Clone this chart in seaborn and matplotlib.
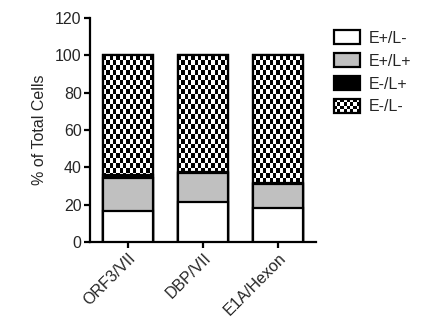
import numpy as np
import pandas as pd
import matplotlib
matplotlib.use("Agg")
import matplotlib.pyplot as plt
import seaborn as sns
from matplotlib.patches import Patch, Rectangle
from matplotlib.legend_handler import HandlerPatch
from matplotlib.image import BboxImage
from matplotlib.transforms import Bbox, TransformedBbox

# data (% of total cells)
groups = ["ORF3/VII", "DBP/VII", "E1A/Hexon"]
e_pos_l_neg = [16.5, 21.5, 18.0]
e_pos_l_pos = [18.0, 15.5, 13.0]
e_neg_l_pos = [1.5, 0.4, 0.4]
e_neg_l_neg = [64.0, 62.6, 68.6]
labels = ["E+/L-", "E+/L+", "E-/L+", "E-/L-"]

sns.set_style("ticks")
plt.rcParams["font.family"] = ["Liberation Sans", "DejaVu Sans"]

df = pd.DataFrame({
    "group": groups,
    "white": e_pos_l_neg,
    "gray": e_pos_l_pos,
    "black": e_neg_l_pos,
    "checker": e_neg_l_neg,
})
df["c1"] = df["white"]
df["c2"] = df["c1"] + df["gray"]
df["c3"] = df["c2"] + df["black"]
df["c4"] = df["c3"] + df["checker"]


def checker_img(nx, ny):
    yy, xx = np.mgrid[0:ny, 0:nx]
    return ((xx + yy) % 2).astype(float)


fig = plt.figure(figsize=(4.22, 3.28), dpi=100)
ax = fig.add_axes([90 / 422, 1 - 242 / 328, 226 / 422, 224 / 328])

lw = 1.6
w = 0.66
fs = 11.5
# layered cumulative bars, tallest first
sns.barplot(data=df, x="group", y="c4", color="white", edgecolor="black",
            linewidth=lw, width=w, ax=ax, zorder=2)
checker_patches = list(ax.patches)
sns.barplot(data=df, x="group", y="c3", color="black", edgecolor="black",
            linewidth=lw, width=w, ax=ax, zorder=4)
sns.barplot(data=df, x="group", y="c2", color="#c0c0c0", edgecolor="black",
            linewidth=lw, width=w, ax=ax, zorder=5)
sns.barplot(data=df, x="group", y="c1", color="white", edgecolor="black",
            linewidth=lw, width=w, ax=ax, zorder=6)

# checkerboard fill for the E-/L- segment
for p in checker_patches:
    x0, y0 = p.get_x(), p.get_y()
    bw, bh = p.get_width(), p.get_height()
    img = ax.imshow(checker_img(15, 38), cmap="gray", interpolation="nearest",
                    extent=[x0, x0 + bw, y0, y0 + bh], aspect="auto", zorder=3)
    img.set_clip_path(p)
# outline again on top
for p in checker_patches:
    ax.add_patch(Rectangle((p.get_x(), p.get_y()), p.get_width(), p.get_height(),
                           facecolor="none", edgecolor="black", lw=lw, zorder=3.5))

ax.set_xlim(-0.5, 2.5)
ax.set_ylim(0, 120)
ax.set_yticks(range(0, 121, 20))
ax.set_xlabel("")
ax.set_ylabel("% of Total Cells", fontsize=fs, labelpad=6)
ax.tick_params(axis="both", labelsize=fs, width=lw, length=4, color="black",
               pad=2)
plt.setp(ax.get_xticklabels(), rotation=45, ha="right", rotation_mode="anchor")
for s in ["left", "bottom"]:
    ax.spines[s].set_linewidth(lw)
    ax.spines[s].set_color("black")
sns.despine(ax=ax)


class HandlerChecker(HandlerPatch):
    def create_artists(self, legend, orig_handle, xdescent, ydescent,
                       width, height, fontsize, trans):
        bb = TransformedBbox(Bbox.from_bounds(-xdescent, -ydescent, width, height), trans)
        im = BboxImage(bb, cmap="gray", interpolation="nearest")
        im.set_data(checker_img(8, 4))
        rect = Rectangle((-xdescent, -ydescent), width, height, facecolor="none",
                         edgecolor="black", lw=lw, transform=trans)
        return [im, rect]


handles = [
    Patch(facecolor="white", edgecolor="black", lw=lw),
    Patch(facecolor="#c0c0c0", edgecolor="black", lw=lw),
    Patch(facecolor="black", edgecolor="black", lw=lw),
    Patch(facecolor="white", edgecolor="black", lw=lw),
]
fig.legend(handles, labels, loc="upper left", bbox_to_anchor=(320 / 422, 1 - 16 / 328),
           frameon=False, fontsize=fs, handlelength=1.6, handleheight=0.95,
           labelspacing=0.47, handletextpad=0.55,
           handler_map={handles[3]: HandlerChecker()})

fig.savefig("out.png", dpi=100)
